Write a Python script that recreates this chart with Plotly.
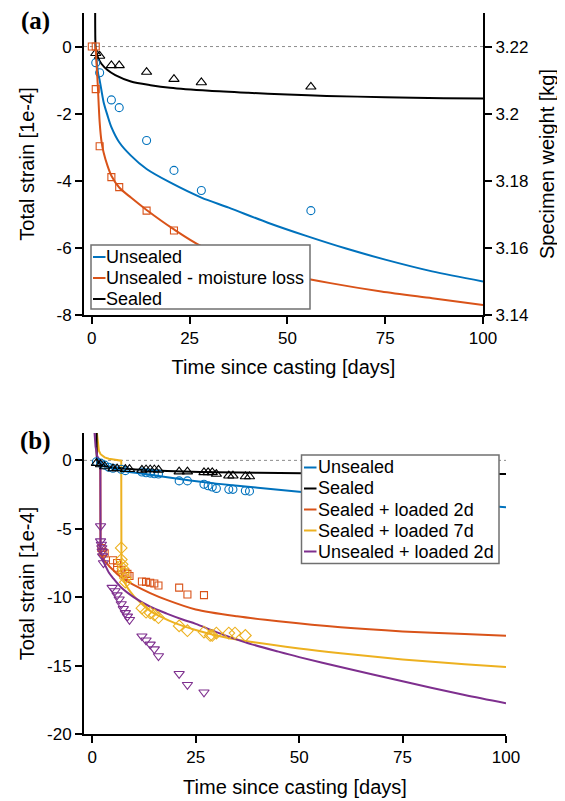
import plotly.graph_objects as go

# ---------------- Data: panel (a) ----------------
a_sealed_curve_days = [0.85, 0.9, 1.0, 1.3, 1.7, 2.5, 4, 6, 10, 15, 20, 30, 40, 50, 60, 75, 90, 100]
a_sealed_curve = [1.2, 0.2, -0.08, -0.22, -0.36, -0.52, -0.7, -0.85, -1.04, -1.15, -1.23, -1.32, -1.38, -1.43, -1.47, -1.51, -1.54, -1.55]

a_unsealed_curve_days = [1.0, 1.3, 1.6, 2, 3, 4, 5, 7, 10, 14, 20, 28, 35, 45, 55, 65, 75, 87, 100]
a_unsealed_curve = [-0.1, -0.5, -0.8, -1.0, -1.65, -2.05, -2.4, -2.85, -3.25, -3.65, -4.05, -4.5, -4.8, -5.25, -5.65, -6.02, -6.35, -6.7, -7.0]

a_moisture_curve_days = [1.0, 1.2, 1.5, 2, 2.5, 3, 4, 5, 7, 10, 14, 21, 28, 40, 50, 61, 74, 87, 100]
a_moisture_curve_kg = [3.2200, 3.2150, 3.2090, 3.1975, 3.1915, 3.1885, 3.1845, 3.1815, 3.1780, 3.1750, 3.1713, 3.1655, 3.1605, 3.1550, 3.1520, 3.1495, 3.1470, 3.1450, 3.1430]

a_sealed_pts_days = [1, 2, 5, 7, 14, 21, 28, 56]
a_sealed_pts = [-0.2, -0.28, -0.56, -0.56, -0.76, -0.97, -1.07, -1.2]

a_unsealed_pts_days = [1, 2, 5, 7, 14, 21, 28, 56]
a_unsealed_pts = [-0.48, -0.78, -1.59, -1.82, -2.8, -3.69, -4.29, -4.89]

a_moisture_pts_days = [0, 1, 1, 2, 5, 7, 14, 21]
a_moisture_pts_kg = [3.22, 3.22, 3.2073, 3.1903, 3.1811, 3.1781, 3.1711, 3.1652]

# ---------------- Data: panel (b) ----------------
b_sealed_curve_days = [1.05, 1.1, 1.3, 2, 3, 5, 8, 14, 22, 30, 40, 60, 80, 100]
b_sealed_curve = [2.2, 0.3, -0.1, -0.3, -0.42, -0.52, -0.61, -0.72, -0.82, -0.87, -0.91, -0.95, -0.98, -1.0]

b_unsealed_curve_days = [1.0, 1.5, 2, 3, 5, 8, 14, 22, 30, 40, 50, 60, 75, 90, 100]
b_unsealed_curve = [0.0, -0.15, -0.25, -0.4, -0.6, -0.8, -1.05, -1.4, -1.7, -2.0, -2.3, -2.55, -2.9, -3.2, -3.42]

# loaded curves: before loading (incl. the instantaneous drop) and after loading
b_load2_pre_days = [1.05, 1.1, 1.3, 1.95, 2.0]
b_load2_pre = [2.2, 0.3, -0.1, -0.3, -6.6]
b_load2_post_days = [2.0, 2.4, 3, 4, 5, 6, 8, 10, 14, 18, 25, 35, 45, 60, 75, 90, 100]
b_load2_post = [-6.6, -7.0, -7.35, -7.7, -8.0, -8.3, -8.75, -9.1, -9.7, -10.2, -10.9, -11.4, -11.76, -12.2, -12.5, -12.7, -12.82]

b_load7_pre_days = [1.05, 1.3, 1.6, 2, 3, 4, 5, 6, 7.0, 7.05]
b_load7_pre = [2.2, 1.2, 0.7, 0.45, 0.22, 0.12, 0.06, 0.02, -0.02, -8.0]
b_load7_post_days = [7.05, 7.3, 7.8, 8.5, 10, 12, 14, 17, 20, 25, 30, 37, 50, 60, 75, 90, 100]
b_load7_post = [-8.0, -8.5, -8.9, -9.3, -9.9, -10.5, -11.0, -11.5, -11.9, -12.4, -12.8, -13.2, -13.75, -14.1, -14.55, -14.9, -15.1]

b_load2u_pre_days = [0.5, 0.8, 1.2, 1.6, 1.95, 2.0]
b_load2u_pre = [2.2, 1.0, 0.3, 0.05, -0.05, -6.5]
b_load2u_post_days = [2.0, 2.1, 2.5, 3, 4, 5, 7, 10, 14, 18, 22, 25, 30, 37, 45, 50, 60, 75, 90, 100]
b_load2u_post = [-6.5, -6.9, -7.3, -7.6, -8.2, -8.6, -9.3, -10.0, -10.7, -11.2, -11.65, -11.95, -12.55, -13.3, -13.98, -14.38, -15.1, -16.15, -17.15, -17.75]

b_sealed_pts_days = [1, 2, 3, 5, 6, 8, 9, 12, 13, 14, 15, 16, 21, 23, 27, 28, 29, 30, 33, 34, 37, 38]
b_sealed_pts = [-0.2, -0.3, -0.45, -0.6, -0.6, -0.65, -0.65, -0.7, -0.67, -0.67, -0.67, -0.7, -0.82, -0.82, -0.88, -0.88, -0.88, -1.0, -1.12, -1.12, -1.18, -1.18]

b_unsealed_pts_days = [1, 2, 3, 4, 5, 7, 8, 12, 13, 14, 15, 16, 21, 23, 27, 28, 29, 30, 33, 34, 37, 38]
b_unsealed_pts = [-0.1, -0.2, -0.35, -0.5, -0.58, -0.65, -0.75, -0.85, -0.9, -0.93, -0.98, -1.0, -1.5, -1.5, -1.75, -1.85, -1.95, -2.05, -2.12, -2.12, -2.22, -2.25]

b_load2_pts_days = [2.2, 2.5, 3, 5, 6, 6, 7, 8, 8.5, 9, 12, 13, 14, 15, 16, 21, 23, 27]
b_load2_pts = [-6.4, -6.7, -6.8, -7.3, -7.5, -7.85, -8.0, -8.2, -8.3, -8.45, -8.85, -8.88, -8.95, -9.0, -9.15, -9.3, -9.8, -9.85]

b_load7_pts_days = [7, 7, 7.2, 7.4, 7.6, 8, 8, 12, 13, 14, 15, 16, 21, 23, 27, 28.5, 29, 30, 33, 34.5, 37]
b_load7_pts = [-6.4, -7.25, -7.6, -7.9, -8.2, -8.6, -8.9, -10.8, -11.1, -11.15, -11.3, -11.5, -12.1, -12.45, -12.55, -12.8, -12.8, -12.62, -12.62, -12.62, -12.8]

b_load2u_pts_days = [2, 2, 2.2, 2.3, 2.4, 2.5, 2.7, 4.8, 5.5, 6, 6.5, 7, 7.5, 8, 8.5, 9, 12, 13, 14, 15, 16, 21, 23, 27]
b_load2u_pts = [-4.8, -5.9, -6.15, -6.4, -6.65, -7.0, -7.5, -9.3, -9.55, -9.85, -10.15, -10.5, -10.85, -11.15, -11.4, -11.65, -12.85, -13.15, -13.45, -13.8, -14.3, -15.6, -16.4, -16.95]

# ---------------- Ticks and labels ----------------
x_ticks = [0, 25, 50, 75, 100]
x_ticktext = ["0", "25", "50", "75", "100"]
a_y_ticks = [0, -2, -4, -6, -8]
a_y_ticktext = ["0", "-2", "-4", "-6", "-8"]
a_y2_ticks = [3.14, 3.16, 3.18, 3.2, 3.22]
a_y2_ticktext = ["3.14", "3.16", "3.18", "3.2", "3.22"]
b_y_ticks = [0, -5, -10, -15, -20]
b_y_ticktext = ["0", "-5", "-10", "-15", "-20"]

a_legend = ["Unsealed", "Unsealed - moisture loss", "Sealed"]
b_legend = ["Unsealed", "Sealed", "Sealed + loaded 2d", "Sealed + loaded 7d", "Unsealed + loaded 2d"]

BLUE = "#0072BD"
ORANGE = "#D95319"
YELLOW = "#EDB120"
PURPLE = "#7E2F8E"
BLACK = "#000000"

FONT = "Liberation Sans, Arial, sans-serif"

fig = go.Figure()


def line(x, y, color, xa, ya, shape="spline"):
    fig.add_trace(go.Scatter(x=x, y=y, mode="lines",
                             line=dict(color=color, width=2, shape=shape, smoothing=0.8),
                             xaxis=xa, yaxis=ya, showlegend=False, hoverinfo="skip"))


def pts(x, y, color, symbol, size, xa, ya):
    fig.add_trace(go.Scatter(x=x, y=y, mode="markers",
                             marker=dict(symbol=symbol, size=size, color=color,
                                         line=dict(color=color, width=1.1)),
                             xaxis=xa, yaxis=ya, showlegend=False, cliponaxis=True))


# panel (a)
line(a_unsealed_curve_days, a_unsealed_curve, BLUE, "x", "y")
line(a_moisture_curve_days, a_moisture_curve_kg, ORANGE, "x", "y2")
line(a_sealed_curve_days, a_sealed_curve, BLACK, "x", "y")
pts(a_unsealed_pts_days, a_unsealed_pts, BLUE, "circle-open", 8, "x", "y")
pts(a_moisture_pts_days, a_moisture_pts_kg, ORANGE, "square-open", 7, "x", "y2")
pts(a_sealed_pts_days, a_sealed_pts, BLACK, "triangle-up-open", 9, "x", "y")

# panel (b)
line(b_unsealed_curve_days, b_unsealed_curve, BLUE, "x2", "y3")
line(b_load2_pre_days, b_load2_pre, ORANGE, "x2", "y3", "linear")
line(b_load2_post_days, b_load2_post, ORANGE, "x2", "y3")
line(b_load7_pre_days, b_load7_pre, YELLOW, "x2", "y3", "linear")
line(b_load7_post_days, b_load7_post, YELLOW, "x2", "y3")
line(b_sealed_curve_days, b_sealed_curve, BLACK, "x2", "y3")
line(b_load2u_pre_days, b_load2u_pre, PURPLE, "x2", "y3", "linear")
line(b_load2u_post_days, b_load2u_post, PURPLE, "x2", "y3")
pts(b_unsealed_pts_days, b_unsealed_pts, BLUE, "circle-open", 8, "x2", "y3")
pts(b_sealed_pts_days, b_sealed_pts, BLACK, "triangle-up-open", 9, "x2", "y3")
pts(b_load2_pts_days, b_load2_pts, ORANGE, "square-open", 7, "x2", "y3")
pts(b_load7_pts_days, b_load7_pts, YELLOW, "diamond-open", 9, "x2", "y3")
pts(b_load2u_pts_days, b_load2u_pts, PURPLE, "triangle-down-open", 9, "x2", "y3")

# ---------------- Layout ----------------
# page body has an 8px margin, so the figure is drawn 8px smaller / offset
OFF = 8
W, H = 565 - OFF, 801 - OFF
ML, MR, MT, MB = 84 - OFF, 59, 13 - OFF, 67
PW, PH = W - ML - MR, H - MT - MB


def X(px):  # reference pixel -> paper fraction
    return (px - OFF - ML) / PW


def Y(py):
    return (H - MB - (py - OFF)) / PH


axis_common = dict(showline=True, linewidth=2, linecolor="black", ticks="outside",
                   ticklen=7, tickwidth=2, tickcolor="black", showgrid=False, zeroline=False,
                   tickfont=dict(family=FONT, size=17, color="black"))
title_font = dict(family=FONT, size=20, color="black")

fig.update_layout(
    width=W, height=H, template="none",
    margin=dict(l=ML, r=MR, t=MT, b=MB),
    paper_bgcolor="white", plot_bgcolor="rgba(0,0,0,0)",
    showlegend=False,
    xaxis=dict(domain=[0, X(483)], range=[-2, 100], anchor="y",
               tickvals=x_ticks, ticktext=x_ticktext,
               title=dict(text="Time since casting [days]", font=title_font, standoff=13),
               **axis_common),
    yaxis=dict(domain=[Y(315), 1], range=[-8, 1], anchor="x",
               tickvals=a_y_ticks, ticktext=a_y_ticktext,
               title=dict(text="Total strain [1e-4]", font=title_font, standoff=16),
               **axis_common),
    yaxis2=dict(overlaying="y", side="right", anchor="x", range=[3.14, 3.23],
                tickvals=a_y2_ticks, ticktext=a_y2_ticktext,
                title=dict(text="Specimen weight [kg]", font=title_font, standoff=13),
                **axis_common),
    xaxis2=dict(domain=[0, 1], range=[-2, 100], anchor="y3",
                tickvals=x_ticks, ticktext=x_ticktext,
                title=dict(text="Time since casting [days]", font=title_font, standoff=14),
                **axis_common),
    yaxis3=dict(domain=[0, Y(433)], range=[-20, 2], anchor="x2",
                tickvals=b_y_ticks, ticktext=b_y_ticktext,
                title=dict(text="Total strain [1e-4]", font=title_font, standoff=7),
                **axis_common),
)

shapes = []
shapes.append(dict(type="line", xref="x domain", yref="y", x0=0, x1=1, y0=0, y1=0,
                   line=dict(color="#8c8c8c", width=1, dash="dot"), layer="below"))
shapes.append(dict(type="line", xref="x2 domain", yref="y3", x0=0, x1=1, y0=0, y1=0,
                   line=dict(color="#8c8c8c", width=1, dash="dot"), layer="below"))

annotations = []


def legend_box(x0, y0, x1, y1, rows_y, labels, colors, lx0, lx1, tx):
    shapes.append(dict(type="rect", xref="paper", yref="paper", x0=X(x0), x1=X(x1), y0=Y(y1), y1=Y(y0),
                       fillcolor="white", line=dict(color="#707070", width=1.5), layer="above"))
    for ry, lab, col in zip(rows_y, labels, colors):
        shapes.append(dict(type="line", xref="paper", yref="paper", x0=X(lx0), x1=X(lx1), y0=Y(ry), y1=Y(ry),
                           line=dict(color=col, width=2), layer="above"))
        annotations.append(dict(text=lab, xref="paper", yref="paper", x=X(tx), y=Y(ry),
                                xanchor="left", yanchor="middle", showarrow=False,
                                font=dict(family=FONT, size=18, color="black")))


legend_box(91, 245, 310, 309, [257, 278, 299], a_legend, [BLUE, ORANGE, BLACK], 93, 105.5, 104)
legend_box(301.5, 455, 499, 563.5, [467.5, 488.5, 509.5, 530.5, 551.5], b_legend,
           [BLUE, BLACK, ORANGE, YELLOW, PURPLE], 304, 316.5, 315.5)

annotations.append(dict(text="<b>(a)</b>", xref="paper", yref="paper", x=X(35), y=Y(21),
                        xanchor="center", yanchor="middle", showarrow=False,
                        font=dict(family="Liberation Serif, Times New Roman, serif", size=25, color="black")))
annotations.append(dict(text="<b>(b)</b>", xref="paper", yref="paper", x=X(35), y=Y(441),
                        xanchor="center", yanchor="middle", showarrow=False,
                        font=dict(family="Liberation Serif, Times New Roman, serif", size=25, color="black")))

fig.update_layout(shapes=shapes, annotations=annotations)

fig.write_html("out.html")
